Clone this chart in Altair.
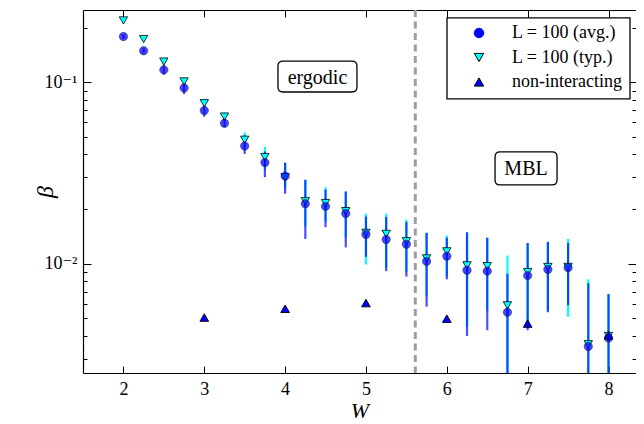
import altair as alt
import pandas as pd

# ---------------- data ----------------
W = [2.0, 2.25, 2.5, 2.75, 3.0, 3.25, 3.5, 3.75, 4.0, 4.25, 4.5, 4.75, 5.0,
     5.25, 5.5, 5.75, 6.0, 6.25, 6.5, 6.75, 7.0, 7.25, 7.5, 7.75, 8.0]
beta_avg = [0.1785, 0.149, 0.117, 0.093, 0.0698, 0.0594, 0.0445, 0.0361, 0.0304,
            0.0214, 0.0207, 0.0189, 0.0145, 0.0136, 0.0128, 0.0103, 0.0110, 0.0092,
            0.0091, 0.0054, 0.0086, 0.0093, 0.0095, 0.0035, 0.0039]
avg_lo = [0.173, 0.144, 0.110, 0.086, 0.0645, 0.0565, 0.0403, 0.0300, 0.0243,
          0.0137, 0.0159, 0.0123, 0.0109, 0.0091, 0.0085, 0.0058, 0.0082, 0.0040,
          0.0043, 0.0020, 0.0043, 0.0054, 0.0059, 0.0020, 0.0020]
avg_hi = [0.184, 0.154, 0.124, 0.101, 0.0760, 0.0630, 0.0510, 0.0415, 0.0360,
          0.0290, 0.0256, 0.0250, 0.0182, 0.0181, 0.0170, 0.0148, 0.0139, 0.0149,
          0.0139, 0.0088, 0.0130, 0.0132, 0.0130, 0.0078, 0.0068]
beta_typ = [0.219, 0.173, 0.130, 0.101, 0.0766, 0.0647, 0.0482, 0.0387, 0.0300,
            0.0221, 0.0216, 0.0195, 0.0148, 0.0146, 0.0133, 0.0107, 0.0117, 0.0098,
            0.0097, 0.0059, 0.0090, 0.0096, 0.0096, 0.0036, 0.0040]
typ_lo = [0.212, 0.168, 0.124, 0.096, 0.072, 0.061, 0.0440, 0.0330, 0.0260,
          0.0160, 0.0170, 0.0140, 0.0099, 0.0095, 0.0090, 0.0066, 0.0085, 0.0045,
          0.0055, 0.0020, 0.0045, 0.0055, 0.0051, 0.0020, 0.0020]
typ_hi = [0.226, 0.178, 0.136, 0.106, 0.081, 0.068, 0.0530, 0.0440, 0.0360,
          0.0290, 0.0264, 0.0250, 0.0189, 0.0189, 0.0175, 0.0148, 0.0143, 0.0149,
          0.0139, 0.0111, 0.0130, 0.0132, 0.0137, 0.0082, 0.0068]
W_nonint = [3.0, 4.0, 5.0, 6.0, 7.0, 8.0]
beta_nonint = [0.00505, 0.00565, 0.00607, 0.00498, 0.00468, 0.00403]

W_c = [5.61]
series_names = ["L = 100 (avg.)", "L = 100 (typ.)", "non-interacting"]
ann_text = ["ergodic", "MBL"]
ann_W = [4.40, 6.98]
ann_beta = [0.1075, 0.0335]

x_ticks = [2, 3, 4, 5, 6, 7, 8]
y_major = [0.01, 0.1]
y_minor = [0.003, 0.004, 0.005, 0.006, 0.007, 0.008, 0.009,
           0.02, 0.03, 0.04, 0.05, 0.06, 0.07, 0.08, 0.09, 0.2]

# ---------------- tables ----------------
df = pd.DataFrame({"W": W, "avg": beta_avg, "avg_lo": avg_lo, "avg_hi": avg_hi,
                   "typ": beta_typ, "typ_lo": typ_lo, "typ_hi": typ_hi})
df_avg = pd.DataFrame({"W": W, "beta": beta_avg, "series": series_names[0]})
df_typ = pd.DataFrame({"W": W, "beta": beta_typ, "series": series_names[1]})
df_non = pd.DataFrame({"W": W_nonint, "beta": beta_nonint, "series": series_names[2]})
df_wc = pd.DataFrame({"W": W_c})
df_ann = pd.DataFrame({"W": ann_W, "beta": ann_beta, "label": ann_text})
df_legbox = pd.DataFrame({"W": [7.134], "beta": [0.1352]})   # centre of the legend frame

SERIF = "Liberation Serif, DejaVu Serif, serif"

xs = alt.Scale(domain=[1.5, 8.34], nice=False, zero=False)
ys = alt.Scale(type="log", domain=[0.0025, 0.25], nice=False)

color_scale = alt.Scale(domain=series_names, range=["#0000ff", "#00ffff", "#0000ff"])
shape_scale = alt.Scale(domain=series_names, range=["circle", "triangle-down", "triangle-up"])
stroke_scale = alt.Scale(domain=series_names, range=["#0000ff", "#000000", "#000000"])
legend = alt.Legend(
    title=None, orient="none", legendX=387, legendY=12,
    labelFont=SERIF, labelFontSize=18, labelColor="black", labelLimit=0,
    symbolSize=90, symbolOpacity=1, symbolStrokeWidth=1,
    padding=0, rowPadding=2.5, clipHeight=22, labelOffset=24,
)

NOAX_X = alt.X("W:Q", scale=xs, axis=None)
NOAX_Y = alt.Y("beta:Q", scale=ys, axis=None)

# error bars
bar_typ = alt.Chart(df).mark_rule(color="#00ffff", strokeWidth=2.2, clip=True).encode(
    x=alt.X("W:Q", scale=xs, axis=None),
    y=alt.Y("typ_lo:Q", scale=ys, axis=None), y2="typ_hi:Q")
bar_avg = alt.Chart(df).mark_rule(color="#0000ff", opacity=0.7, strokeWidth=2.2, clip=True).encode(
    x=alt.X("W:Q", scale=xs, axis=None),
    y=alt.Y("avg_lo:Q", scale=ys, axis=None), y2="avg_hi:Q")

# critical disorder line
wc_line = alt.Chart(df_wc).mark_rule(color="#9e9e9e", strokeWidth=3, strokeDash=[7, 4.5]).encode(
    x=alt.X("W:Q", scale=xs, axis=None))

# markers
typ_pts = alt.Chart(df_typ).mark_point(filled=True, opacity=1, size=70, strokeWidth=0.8, clip=True).encode(
    x=NOAX_X, y=NOAX_Y,
    color=alt.Color("series:N", scale=color_scale, legend=legend),
    shape=alt.Shape("series:N", scale=shape_scale, legend=legend),
    stroke=alt.Stroke("series:N", scale=stroke_scale, legend=legend))
avg_pts = alt.Chart(df_avg).mark_point(filled=True, opacity=1, fillOpacity=0.72, size=70,
                                      strokeWidth=0.8, strokeOpacity=0.6, stroke="#222222", clip=True).encode(
    x=NOAX_X, y=NOAX_Y,
    color=alt.Color("series:N", scale=color_scale, legend=legend),
    shape=alt.Shape("series:N", scale=shape_scale, legend=legend))
non_pts = alt.Chart(df_non).mark_point(filled=True, opacity=1, size=76, strokeWidth=0.9, clip=True).encode(
    x=NOAX_X, y=NOAX_Y,
    color=alt.Color("series:N", scale=color_scale, legend=legend),
    shape=alt.Shape("series:N", scale=shape_scale, legend=legend),
    stroke=alt.Stroke("series:N", scale=stroke_scale, legend=legend))

# annotation boxes (custom symbol paths, sized in pixels)
box_ergodic = ("M -0.873,-0.392 L 0.873,-0.392 Q 1,-0.392 1,-0.265 L 1,0.265 Q 1,0.392 0.873,0.392 "
               "L -0.873,0.392 Q -1,0.392 -1,0.265 L -1,-0.265 Q -1,-0.392 -0.873,-0.392 Z")
box_mbl = ("M -0.84,-0.532 L 0.84,-0.532 Q 1,-0.532 1,-0.372 L 1,0.372 Q 1,0.532 0.84,0.532 "
           "L -0.84,0.532 Q -1,0.532 -1,0.372 L -1,-0.372 Q -1,-0.532 -0.84,-0.532 Z")
box_legend = "M -1,-0.4426 L 1,-0.4426 L 1,0.4426 L -1,0.4426 Z"
box_style = dict(filled=True, fill="white", stroke="black", strokeWidth=1.3,
                 opacity=1, fillOpacity=1, strokeOpacity=1)
ann_box1 = alt.Chart(df_ann.iloc[[0]]).mark_point(shape=box_ergodic, size=6241, **box_style).encode(
    x=NOAX_X, y=NOAX_Y)
ann_box2 = alt.Chart(df_ann.iloc[[1]]).mark_point(shape=box_mbl, size=3844, **box_style).encode(
    x=NOAX_X, y=NOAX_Y)
leg_box = alt.Chart(df_legbox).mark_point(shape=box_legend, size=33489, **box_style).encode(
    x=NOAX_X, y=NOAX_Y)
ann_txt = alt.Chart(df_ann).mark_text(font=SERIF, fontSize=20, color="black",
                                      baseline="middle", align="center", dy=1).encode(
    x=NOAX_X, y=NOAX_Y, text="label:N")

# ---------------- axes (matplotlib-like frame with inward ticks) ----------------
base_ax = alt.Chart(df_avg).mark_point(opacity=0)

ax_common = dict(grid=False, tickColor="black", tickWidth=1, domain=False, title=None, labels=False)

frame1 = base_ax.encode(
    x=alt.X("W:Q", scale=xs, axis=alt.Axis(orient="bottom", grid=False, ticks=False, labels=False,
                                            domain=True, domainColor="black", domainWidth=1.2, title=None)),
    y=alt.Y("beta:Q", scale=ys, axis=alt.Axis(orient="left", grid=False, ticks=False, labels=False,
                                               domain=True, domainColor="black", domainWidth=1.2, title=None)))
frame2 = base_ax.encode(
    x=alt.X("W:Q", scale=xs, axis=alt.Axis(orient="top", grid=False, ticks=False, labels=False,
                                            domain=True, domainColor="black", domainWidth=1.2, title=None)),
    y=alt.Y("beta:Q", scale=ys, axis=None))

ticks_main = base_ax.encode(
    x=alt.X("W:Q", scale=xs, axis=alt.Axis(
        orient="bottom", values=x_ticks, offset=-7, tickSize=7, tickColor="black", tickWidth=1,
        domain=False, grid=False, format="d", labelFont=SERIF, labelFontSize=18, labelColor="black",
        labelPadding=7, title="W", titleFont=SERIF, titleFontSize=22, titleFontStyle="italic",
        titleFontWeight="normal", titleColor="black", titlePadding=2)),
    y=alt.Y("beta:Q", scale=ys, axis=alt.Axis(
        orient="left", values=y_major, offset=-8, tickSize=8, tickColor="black", tickWidth=1,
        domain=False, grid=False, labelFont=SERIF, labelFontSize=18, labelColor="black",
        labelPadding=6, labelExpr="datum.value < 0.05 ? '10\u207b\u00b2' : '10\u207b\u00b9'",
        title="\u03b2", titleFont=SERIF, titleFontSize=24, titleFontStyle="italic",
        titleFontWeight="normal", titleColor="black", titlePadding=-13)))
ticks_2 = base_ax.encode(
    x=alt.X("W:Q", scale=xs, axis=alt.Axis(orient="top", values=x_ticks, offset=-7, tickSize=7, **ax_common)),
    y=alt.Y("beta:Q", scale=ys, axis=alt.Axis(orient="left", values=y_minor, offset=-4, tickSize=4, **ax_common)))
ticks_3 = base_ax.encode(
    x=alt.X("W:Q", scale=xs, axis=None),
    y=alt.Y("beta:Q", scale=ys, axis=alt.Axis(orient="right", values=y_major, offset=-8, tickSize=8, **ax_common)))
ticks_4 = base_ax.encode(
    x=alt.X("W:Q", scale=xs, axis=None),
    y=alt.Y("beta:Q", scale=ys, axis=alt.Axis(orient="right", values=y_minor, offset=-4, tickSize=4, **ax_common)))

chart = alt.layer(
    frame1, frame2, ticks_main, ticks_2, ticks_3, ticks_4,
    bar_typ, bar_avg, wc_line, ann_box1, ann_box2, ann_txt, leg_box,
    typ_pts, avg_pts, non_pts,
).resolve_axis(x="independent", y="independent").properties(
    width=553, height=363,
    autosize=alt.AutoSizeParams(type="none"),
    padding={"left": 75, "top": 2, "right": 0, "bottom": 54},
    background="white",
).configure_view(stroke=None)

chart.save("out.html", embed_options={"renderer": "svg", "actions": False})
